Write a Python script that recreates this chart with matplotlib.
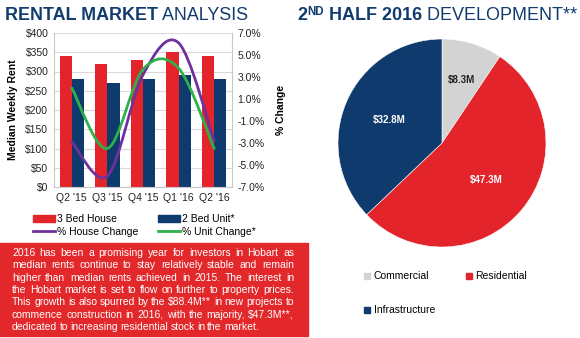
import matplotlib
matplotlib.use("Agg")
import numpy as np
from matplotlib import pyplot as plt
from matplotlib.path import Path
from matplotlib.patches import PathPatch, Rectangle, Patch
from matplotlib.lines import Line2D

plt.rcParams['font.family'] = ['Liberation Sans', 'DejaVu Sans']

# rental data
quarters = ["Q2 '15", "Q3 '15", "Q4 '15", "Q1 '16", "Q2 '16"]
house_rent = [340, 320, 330, 350, 340]
unit_rent = [280, 270, 280, 290, 280]
house_change = [-2.9, -6.0, 3.2, 6.1, -2.8]
unit_change = [2.0, -3.5, 3.7, 3.8, -3.5]

# development data
dev_labels = ["Commercial", "Residential", "Infrastructure"]
dev_values = [8.3, 47.3, 32.8]

blurb = [
    "2016 has been a promising year for investors in Hobart as",
    "median rents continue to stay relatively stable and remain",
    "higher than median rents achieved in 2015. The interest in",
    "the Hobart market is set to flow on further to property prices.",
    "This growth is also spurred by the $88.4M** in new projects to",
    "commence construction in 2016, with the majority, $47.3M**,",
    "dedicated to increasing residential stock in the market.",
]

RED = '#e3242b'
NAVY = '#0f3a6d'
GREY = '#d3d3d3'
PURPLE = '#7030a0'
GREEN = '#2eb04b'
TITLE = '#123c6e'

W, H = 580, 338
fig = plt.figure(figsize=(W / 100, H / 100), dpi=100)
r = fig.canvas.get_renderer()


def fx(px):
    return px / W


def fy(py):
    return 1 - py / H


def smooth(ax, xs, ys, color):
    # excel-style smoothed line: cubic bezier through the points
    n = len(xs)
    verts = [(xs[0], ys[0])]
    codes = [Path.MOVETO]
    for i in range(n - 1):
        a, b = max(i - 1, 0), min(i + 2, n - 1)
        c1 = (xs[i] + (xs[i + 1] - xs[a]) / 6, ys[i] + (ys[i + 1] - ys[a]) / 6)
        c2 = (xs[i + 1] - (xs[b] - xs[i]) / 6, ys[i + 1] - (ys[b] - ys[i]) / 6)
        verts += [c1, c2, (xs[i + 1], ys[i + 1])]
        codes += [Path.CURVE4] * 3
    ax.add_patch(PathPatch(Path(verts, codes), fill=False, edgecolor=color,
                           lw=2, capstyle='round'))


def text_run(x_px, y_px, parts):
    # pieces of text laid one after another on a baseline
    for s, size, wt, rise in parts:
        t = fig.text(fx(x_px), fy(y_px) + rise / H, s, fontsize=size,
                     fontweight=wt, color=TITLE, va='baseline')
        x_px += t.get_window_extent(r).width


# ---- left: rental chart ----
ax = fig.add_axes([fx(54), fy(187), fx(232) - fx(54), fy(33) - fy(187)])
x = np.arange(len(quarters))
bw = 0.34
ax.bar(x - bw / 2, house_rent, bw, color=RED, zorder=2)
ax.bar(x + bw / 2, unit_rent, bw, color=NAVY, zorder=2)
ax.set_xlim(-0.5, len(quarters) - 0.5)
ax.set_ylim(0, 400)
ax.set_yticks(range(0, 401, 50))
ax.set_yticklabels(['$%d' % v for v in range(0, 401, 50)])
ax.set_xticks(x)
ax.set_xticklabels(quarters)
ax.grid(axis='y', color='#d9d9d9', lw=0.8, zorder=0)
ax.tick_params(length=0, labelsize=7.5, pad=4, colors='#222222')
for s in ax.spines.values():
    s.set_color('#c8c8c8')
    s.set_linewidth(0.8)
ax.spines['top'].set_visible(False)
ax.set_ylabel('Median Weekly Rent', fontsize=7.5, fontweight='bold', labelpad=5)

ax2 = ax.twinx()
ax2.set_ylim(-7, 7)
ticks = np.arange(-7, 7.1, 2)
ax2.set_yticks(ticks)
ax2.set_yticklabels(['%.1f%%' % t for t in ticks])
ax2.tick_params(length=0, labelsize=7.5, pad=4, colors='#222222')
for s in ax2.spines.values():
    s.set_visible(False)
ax2.set_ylabel('% Change', fontsize=7.5, fontweight='bold', labelpad=8)
smooth(ax2, list(x), house_change, PURPLE)
smooth(ax2, list(x), unit_change, GREEN)

handles = [Patch(color=RED), Line2D([], [], color=PURPLE, lw=2),
           Patch(color=NAVY), Line2D([], [], color=GREEN, lw=2)]
labels = ['3 Bed House', '% House Change', '2 Bed Unit*', '% Unit Change*']
fig.legend(handles, labels, ncol=2, loc='upper left',
           bbox_to_anchor=(fx(28), fy(209)), frameon=False, fontsize=7.5,
           handlelength=2.1, handleheight=0.6, handletextpad=0.2,
           columnspacing=1.85, labelspacing=0.25, borderpad=0)

# titles
text_run(5, 20, [('RENTAL MARKET', 12.9, 'bold', 0), (' ANALYSIS', 12.9, 'normal', 0)])
text_run(297, 20, [('2', 13, 'bold', 0), ('ND', 8.3, 'bold', 5),
                   (' HALF 2016', 13, 'bold', 0), (' DEVELOPMENT**', 13, 'normal', 0)])

# red text panel with justified blurb
fig.add_artist(Rectangle((0, fy(336)), fx(308), fy(243) - fy(336),
                         transform=fig.transFigure, color='#e2282a', zorder=0))
x0, x1 = 12, 294
kw = dict(fontsize=7.5, color='white', va='center', parse_math=False)
for i, line in enumerate(blurb):
    y = fy(253 + i * 12.3)
    words = line.split()
    txts = [fig.text(0, y, w_, **kw) for w_ in words]
    widths = [t.get_window_extent(r).width for t in txts]
    if i < len(blurb) - 1:
        gap = (x1 - x0 - sum(widths)) / (len(words) - 1)
    else:
        gap = 2.3
    xp = x0
    for t, wd in zip(txts, widths):
        t.set_x(fx(xp))
        xp += wd + gap

# ---- right: development pie ----
cx, cy, rad = 442, 143, 104
pax = fig.add_axes([fx(cx - rad), fy(cy + rad), fx(2 * rad), fy(cy - rad) - fy(cy + rad)])
wedges, _ = pax.pie(dev_values, colors=[GREY, RED, NAVY], startangle=90,
                    counterclock=False, radius=1,
                    wedgeprops=dict(edgecolor='white', linewidth=0.4))
pax.set_xlim(-1, 1)
pax.set_ylim(-1, 1)
dists = [0.63, 0.55, 0.55]
tcols = ['#222222', 'white', 'white']
for wdg, v, d, c in zip(wedges, dev_values, dists, tcols):
    ang = np.deg2rad((wdg.theta1 + wdg.theta2) / 2)
    pax.text(d * np.cos(ang), d * np.sin(ang), '$%.1fM' % v, ha='center',
             va='center', fontsize=7, fontweight='bold', color=c, parse_math=False)

ph = [Line2D([], [], marker='s', ls='', color=c, markersize=5)
      for c in [GREY, NAVY, RED]]
fig.legend(ph, ['Commercial', 'Infrastructure', 'Residential'], ncol=2,
           loc='upper left', bbox_to_anchor=(fx(359), fy(266)), frameon=False,
           fontsize=7.5, handlelength=0.6, handletextpad=0.3,
           columnspacing=3.0, labelspacing=2.3, borderpad=0)

fig.savefig('out.png', dpi=100)
